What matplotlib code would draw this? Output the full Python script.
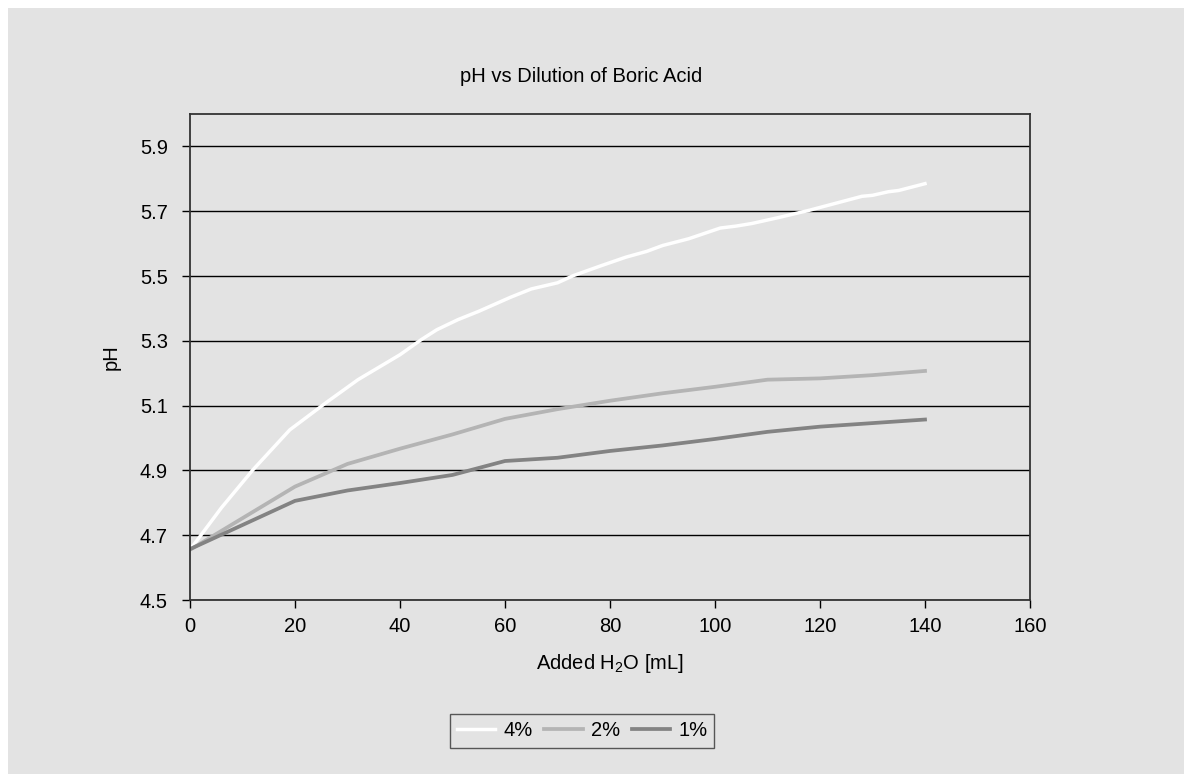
import matplotlib
matplotlib.use("Agg")
import matplotlib.pyplot as plt
from matplotlib.patches import Rectangle

plt.rcParams['font.family'] = ['Liberation Sans', 'DejaVu Sans']
plt.rcParams['mathtext.fontset'] = 'custom'
plt.rcParams['mathtext.rm'] = 'Liberation Sans'

# 4% boric acid, many readings
x_4 = [0, 6, 12, 19, 26, 32, 40, 44, 47, 51, 55, 61, 65, 70, 73, 78, 83, 87, 90,
       95, 101, 104, 107, 112, 118, 128, 130, 133, 135, 140]
ph_4 = [4.655, 4.785, 4.902, 5.025, 5.11, 5.18, 5.257, 5.303, 5.334, 5.365, 5.391,
        5.434, 5.46, 5.479, 5.501, 5.53, 5.558, 5.576, 5.594, 5.615, 5.648, 5.654,
        5.662, 5.68, 5.703, 5.746, 5.749, 5.76, 5.764, 5.785]

# 2% and 1%, every 10 mL after the first 20
x_low = [0, 20, 30, 40, 50, 60, 70, 80, 90, 100, 110, 120, 130, 140]
ph_2 = [4.655, 4.85, 4.92, 4.967, 5.011, 5.059, 5.089, 5.115, 5.138, 5.158, 5.18,
        5.184, 5.194, 5.207]
ph_1 = [4.657, 4.806, 4.838, 4.861, 4.886, 4.929, 4.939, 4.96, 4.977, 4.997, 5.019,
        5.035, 5.046, 5.057]

labels = ['4%', '2%', '1%']
colors = ['#ffffff', '#b4b4b4', '#838383']
yticks = [4.5, 4.7, 4.9, 5.1, 5.3, 5.5, 5.7, 5.9]
xticks = [0, 20, 40, 60, 80, 100, 120, 140, 160]

bg = '#e3e3e3'
fs = 14.5
fig = plt.figure(figsize=(11.84, 7.74), dpi=100, facecolor='white')
# grey panel with small white margin at top and left
fig.patches.append(Rectangle((8 / 1184, 0), 1, 1 - 8 / 774, transform=fig.transFigure,
                             facecolor=bg, edgecolor='none', zorder=-10))

ax = fig.add_axes([190 / 1184, 1 - 600 / 774, 840 / 1184, 486 / 774])
ax.set_facecolor(bg)

ax.plot(x_4, ph_4, color=colors[0], lw=2.5, label=labels[0])
ax.plot(x_low, ph_2, color=colors[1], lw=2.7, label=labels[1])
ax.plot(x_low, ph_1, color=colors[2], lw=2.7, label=labels[2])

ax.set_xlim(0, 160)
ax.set_ylim(4.5, 6.0)
ax.set_xticks(xticks)
ax.set_yticks(yticks)
ax.set_yticklabels([f'{v:.1f}' for v in yticks])
ax.yaxis.grid(True, color='black', lw=1)
ax.set_axisbelow(True)
ax.tick_params(direction='out', length=6, width=1, colors='black', labelsize=fs)
ax.tick_params(axis='y', pad=10)
ax.tick_params(axis='x', pad=6)
for s in ax.spines.values():
    s.set_color('#333333')
    s.set_linewidth(1.3)

ax.set_xlabel(r'Added H$\mathregular{_2}$O [mL]', fontsize=fs, labelpad=12)
ax.set_ylabel('pH', fontsize=fs, labelpad=14)

fig.text(581 / 1184, 1 - 76 / 774, 'pH vs Dilution of Boric Acid', ha='center', va='center',
         fontsize=fs)

leg = fig.legend(loc='center', bbox_to_anchor=(582 / 1184, 1 - 731 / 774), ncol=3,
                 fontsize=fs, frameon=True, fancybox=False, handlelength=1.9,
                 columnspacing=0.6, handletextpad=0.4, borderpad=0.35)
leg.get_frame().set_facecolor(bg)
leg.get_frame().set_edgecolor('#333333')
leg.get_frame().set_linewidth(1.0)

fig.savefig('out.png', dpi=100, facecolor='white')
